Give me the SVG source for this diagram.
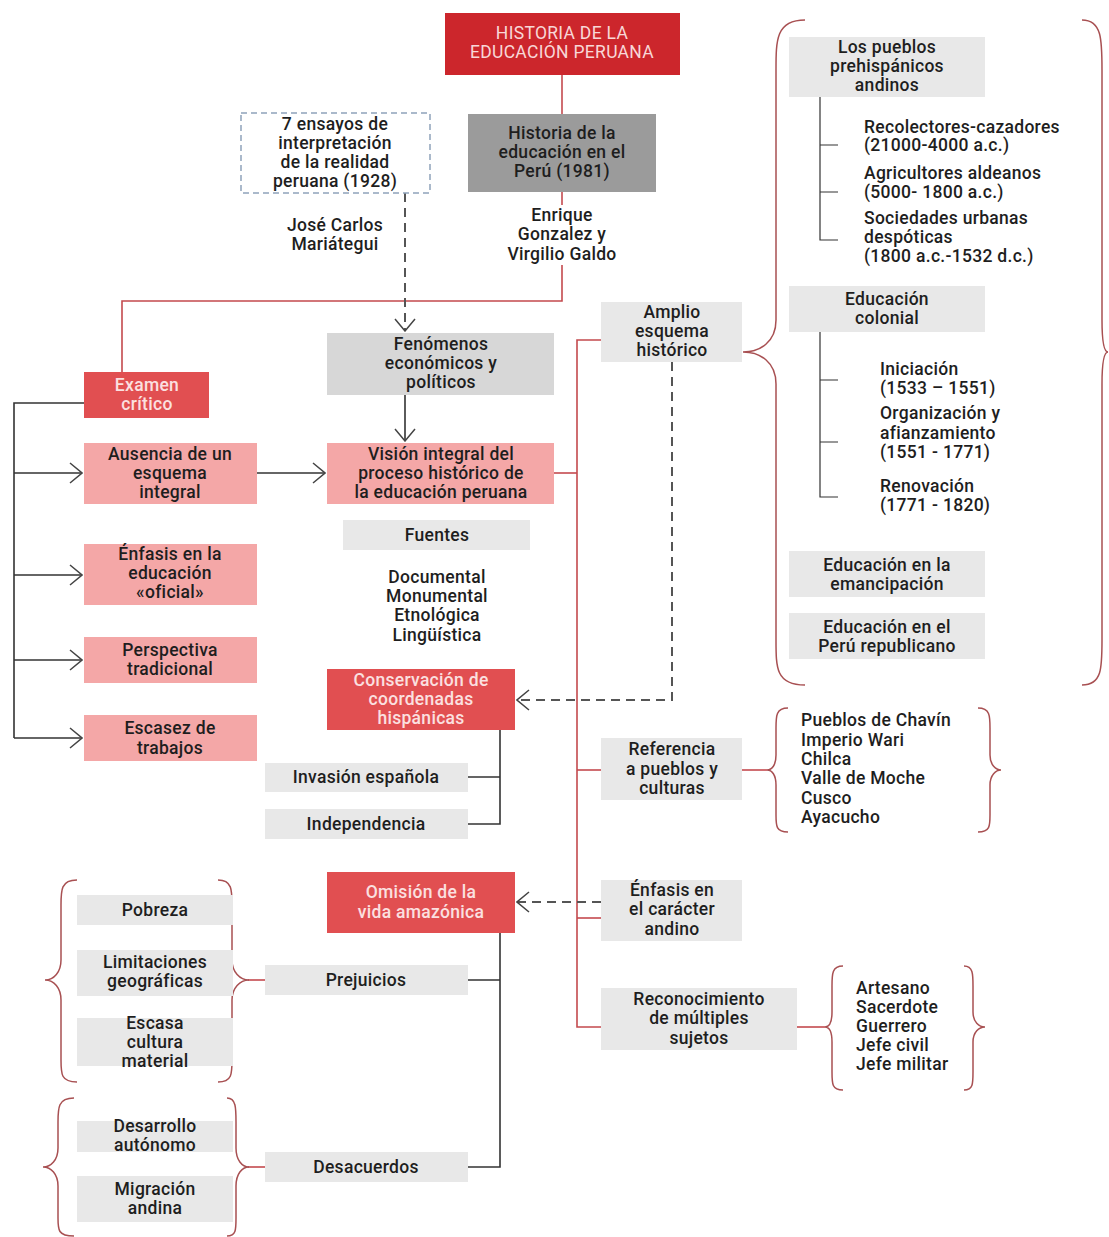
<svg xmlns="http://www.w3.org/2000/svg" width="1109" height="1237" viewBox="0 0 1109 1237">
<style>
text{font-family:Roboto,"Liberation Sans",sans-serif;font-size:17.5px;font-weight:500;letter-spacing:0.3px;fill:#1e1e1e;}
.c{text-anchor:middle}
.lt{fill:#fbe0e0}
.red{fill:#cc262c}
.mred{fill:#e14f51}
.pink{fill:#f4a7a7}
.dgray{fill:#9b9b9b}
.mgray{fill:#d7d7d7}
.lgray{fill:#e8e8e8}
.rl{stroke:#c44a4e;stroke-width:1.6;fill:none}
.dl{stroke:#333;stroke-width:1.6;fill:none}
.dash{stroke:#555;stroke-width:2;fill:none;stroke-dasharray:9 6}
.br{stroke:#a85052;stroke-width:1.5;fill:none}
.tl{stroke:#333;stroke-width:1.2;fill:none}
</style>
<defs>
<marker id="arr" markerUnits="userSpaceOnUse" markerWidth="14" markerHeight="22" viewBox="0 0 14 22" refX="13" refY="11" orient="auto">
<path d="M1,1 L13,11 L1,21" fill="none" stroke="#444" stroke-width="1.5"/>
</marker>
</defs>
<rect width="1109" height="1237" fill="#fff"/>

<g id="connectors">
<path class="rl" d="M562,75 V114"/>
<path class="rl" d="M562,192 V205"/>
<path class="rl" d="M562,265 V301 H122 V372"/>
<path class="dash" d="M405,193 V331" marker-end="url(#arr)"/>
<path class="dl" d="M405,395 V441" marker-end="url(#arr)"/>
<path class="dl" d="M84,403 H14 V738"/>
<path class="dl" d="M14,473 H82" marker-end="url(#arr)"/>
<path class="dl" d="M14,575 H82" marker-end="url(#arr)"/>
<path class="dl" d="M14,660 H82" marker-end="url(#arr)"/>
<path class="dl" d="M14,738 H82" marker-end="url(#arr)"/>
<path class="dl" d="M257,473 H325" marker-end="url(#arr)"/>
<path class="rl" d="M554,473 H577"/>
<path class="rl" d="M601,340 H577 V1027 H601"/>
<path class="rl" d="M577,770 H601"/>
<path class="rl" d="M577,918 H601"/>
<path class="dash" d="M672,362 V700 H517" marker-end="url(#arr)"/>
<path class="dash" d="M601,902 H517" marker-end="url(#arr)"/>
<path class="dl" d="M500,730 V824 H468 M468,777 H500"/>
<path class="dl" d="M500,933 V1167 H468 M468,980 H500"/>
<path class="tl" d="M820,97 V240 H838 M820,145 H838 M820,192 H838"/>
<path class="tl" d="M820,332 V497 H838 M820,380 H838 M820,442 H838"/>
<path class="rl" d="M742,770 H767"/>
<path class="rl" d="M797,1027 H825"/>
<path class="rl" d="M248,980 H265"/>
<path class="rl" d="M248,1167 H265"/>
</g>

<g id="braces">
<path class="br" d="M805,20 C776,20 776,40 776,70 L776,320 C776,342 760,352 743,352 C760,352 776,362 776,384 L776,640 C776,668 776,685 805,685"/>
<path class="br" d="M1082,20 C1102,20 1102,40 1102,70 L1102,320 C1102,342 1104,352 1108,352 C1104,352 1102,362 1102,384 L1102,640 C1102,668 1102,685 1082,685"/>
<path class="br" d="M788,708 C776,708 776,716 776,728 L776,755 C776,765 772,770 767,770 C772,770 776,775 776,785 L776,815 C776,826 776,832 788,832"/>
<path class="br" d="M978,708 C990,708 990,716 990,728 L990,755 C990,765 996,770 1001,770 C996,770 990,775 990,785 L990,815 C990,826 990,832 978,832"/>
<path class="br" d="M843,966 C832,966 832,974 832,986 L832,1012 C832,1022 829,1027 825,1027 C829,1027 832,1032 832,1042 L832,1072 C832,1084 832,1090 843,1090"/>
<path class="br" d="M964,966 C973,966 973,974 973,986 L973,1012 C973,1022 979,1027 985,1027 C979,1027 973,1032 973,1042 L973,1072 C973,1084 973,1090 964,1090"/>
<path class="br" d="M77,880 C61,880 61,890 61,905 L61,960 C61,972 54,980 45,980 C54,980 61,988 61,1000 L61,1060 C61,1074 61,1082 77,1082"/>
<path class="br" d="M218,880 C232,880 232,890 232,905 L232,960 C232,972 240,980 249,980 C240,980 232,988 232,1000 L232,1060 C232,1074 232,1082 218,1082"/>
<path class="br" d="M74,1098 C58,1098 58,1108 58,1122 L58,1148 C58,1160 51,1167 43,1167 C51,1167 58,1174 58,1186 L58,1218 C58,1230 58,1236 74,1236"/>
<path class="br" d="M227,1098 C236,1098 236,1108 236,1122 L236,1148 C236,1160 242,1167 249,1167 C242,1167 236,1174 236,1186 L236,1218 C236,1230 236,1236 227,1236"/>
</g>

<g id="title">
<rect class="red" x="445" y="13" width="235" height="62"/>
<text class="c" x="562" y="39" style="fill:#f8d7d7;font-weight:400">HISTORIA DE LA</text>
<text class="c" x="562" y="58" style="fill:#f8d7d7;font-weight:400">EDUCACIÓN PERUANA</text>
</g>
<g id="historia1981">
<rect class="dgray" x="468" y="114" width="188" height="78"/>
<text class="c" x="562" y="139">Historia de la</text>
<text class="c" x="562" y="158">educación en el</text>
<text class="c" x="562" y="177">Perú (1981)</text>
</g>
<g id="autores1981">
<text class="c" x="562" y="221">Enrique</text>
<text class="c" x="562" y="240">Gonzalez y</text>
<text class="c" x="562" y="260">Virgilio Galdo</text>
</g>
<g id="sieteEnsayos">
<rect x="241" y="113" width="189" height="80" fill="#fff" stroke="#8ea3bb" stroke-width="1.5" stroke-dasharray="6 4"/>
<text class="c" x="335" y="130">7 ensayos de</text>
<text class="c" x="335" y="149">interpretación</text>
<text class="c" x="335" y="168">de la realidad</text>
<text class="c" x="335" y="187">peruana (1928)</text>
</g>
<g id="mariategui">
<text class="c" x="335" y="231">José Carlos</text>
<text class="c" x="335" y="250">Mariátegui</text>
</g>
<g id="fenomenos">
<rect class="mgray" x="327" y="333" width="227" height="62"/>
<text class="c" x="441" y="350">Fenómenos</text>
<text class="c" x="441" y="369">económicos y</text>
<text class="c" x="441" y="388">políticos</text>
</g>
<g id="vision">
<rect class="pink" x="327" y="443" width="227" height="61"/>
<text class="c" x="441" y="460">Visión integral del</text>
<text class="c" x="441" y="479">proceso histórico de</text>
<text class="c" x="441" y="498">la educación peruana</text>
</g>
<g id="examen">
<rect class="mred" x="84" y="372" width="125" height="46"/>
<text class="c lt" x="147" y="391">Examen</text>
<text class="c lt" x="147" y="410">crítico</text>
</g>
<g id="ausencia">
<rect class="pink" x="84" y="443" width="173" height="61"/>
<text class="c" x="170" y="460">Ausencia de un</text>
<text class="c" x="170" y="479">esquema</text>
<text class="c" x="170" y="498">integral</text>
</g>
<g id="enfasisOficial">
<rect class="pink" x="84" y="544" width="173" height="61"/>
<text class="c" x="170" y="560">Énfasis en la</text>
<text class="c" x="170" y="579">educación</text>
<text class="c" x="170" y="598">«oficial»</text>
</g>
<g id="perspectiva">
<rect class="pink" x="84" y="637" width="173" height="46"/>
<text class="c" x="170" y="656">Perspectiva</text>
<text class="c" x="170" y="675">tradicional</text>
</g>
<g id="escasez">
<rect class="pink" x="84" y="715" width="173" height="46"/>
<text class="c" x="170" y="734">Escasez de</text>
<text class="c" x="170" y="754">trabajos</text>
</g>
<g id="fuentes">
<rect class="lgray" x="343" y="520" width="187" height="30"/>
<text class="c" x="437" y="541">Fuentes</text>
</g>
<g id="tiposFuentes">
<text class="c" x="437" y="583">Documental</text>
<text class="c" x="437" y="602">Monumental</text>
<text class="c" x="437" y="621">Etnológica</text>
<text class="c" x="437" y="641">Lingüística</text>
</g>
<g id="conservacion">
<rect class="mred" x="327" y="669" width="188" height="61"/>
<text class="c lt" x="421" y="686">Conservación de</text>
<text class="c lt" x="421" y="705">coordenadas</text>
<text class="c lt" x="421" y="724">hispánicas</text>
</g>
<g id="invasion">
<rect class="lgray" x="265" y="763" width="203" height="29"/>
<text class="c" x="366" y="783">Invasión española</text>
</g>
<g id="independencia">
<rect class="lgray" x="265" y="809" width="203" height="30"/>
<text class="c" x="366" y="830">Independencia</text>
</g>
<g id="omision">
<rect class="mred" x="327" y="872" width="188" height="61"/>
<text class="c lt" x="421" y="898">Omisión de la</text>
<text class="c lt" x="421" y="918">vida amazónica</text>
</g>
<g id="prejuicios">
<rect class="lgray" x="265" y="965" width="203" height="30"/>
<text class="c" x="366" y="986">Prejuicios</text>
</g>
<g id="desacuerdos">
<rect class="lgray" x="265" y="1152" width="203" height="30"/>
<text class="c" x="366" y="1173">Desacuerdos</text>
</g>
<g id="pobreza">
<rect class="lgray" x="77" y="895" width="156" height="30"/>
<text class="c" x="155" y="916">Pobreza</text>
</g>
<g id="limitaciones">
<rect class="lgray" x="77" y="950" width="156" height="46"/>
<text class="c" x="155" y="968">Limitaciones</text>
<text class="c" x="155" y="987">geográficas</text>
</g>
<g id="escasa">
<rect class="lgray" x="77" y="1018" width="156" height="48"/>
<text class="c" x="155" y="1029">Escasa</text>
<text class="c" x="155" y="1048">cultura</text>
<text class="c" x="155" y="1067">material</text>
</g>
<g id="desarrollo">
<rect class="lgray" x="77" y="1121" width="156" height="31"/>
<text class="c" x="155" y="1132">Desarrollo</text>
<text class="c" x="155" y="1151">autónomo</text>
</g>
<g id="migracion">
<rect class="lgray" x="77" y="1176" width="156" height="46"/>
<text class="c" x="155" y="1195">Migración</text>
<text class="c" x="155" y="1214">andina</text>
</g>
<g id="amplio">
<rect class="lgray" x="601" y="302" width="141" height="60"/>
<text class="c" x="672" y="318">Amplio</text>
<text class="c" x="672" y="337">esquema</text>
<text class="c" x="672" y="356">histórico</text>
</g>
<g id="referencia">
<rect class="lgray" x="601" y="738" width="141" height="62"/>
<text class="c" x="672" y="755">Referencia</text>
<text class="c" x="672" y="775">a pueblos y</text>
<text class="c" x="672" y="794">culturas</text>
</g>
<g id="enfasisAndino">
<rect class="lgray" x="601" y="880" width="141" height="61"/>
<text class="c" x="672" y="896">Énfasis en</text>
<text class="c" x="672" y="915">el carácter</text>
<text class="c" x="672" y="935">andino</text>
</g>
<g id="reconocimiento">
<rect class="lgray" x="601" y="988" width="196" height="62"/>
<text class="c" x="699" y="1005">Reconocimiento</text>
<text class="c" x="699" y="1024">de múltiples</text>
<text class="c" x="699" y="1044">sujetos</text>
</g>
<g id="pueblosLista">
<text x="801" y="726">Pueblos de Chavín</text>
<text x="801" y="746">Imperio Wari</text>
<text x="801" y="765">Chilca</text>
<text x="801" y="784">Valle de Moche</text>
<text x="801" y="804">Cusco</text>
<text x="801" y="823">Ayacucho</text>
</g>
<g id="sujetosLista">
<text x="856" y="994">Artesano</text>
<text x="856" y="1013">Sacerdote</text>
<text x="856" y="1032">Guerrero</text>
<text x="856" y="1051">Jefe civil</text>
<text x="856" y="1070">Jefe militar</text>
</g>
<g id="pueblosPrehispanicos">
<rect class="lgray" x="789" y="37" width="196" height="60"/>
<text class="c" x="887" y="53">Los pueblos</text>
<text class="c" x="887" y="72">prehispánicos</text>
<text class="c" x="887" y="91">andinos</text>
</g>
<g id="recolectores">
<text x="864" y="133">Recolectores-cazadores</text>
<text x="864" y="151">(21000-4000 a.c.)</text>
</g>
<g id="agricultores">
<text x="864" y="179">Agricultores aldeanos</text>
<text x="864" y="198">(5000- 1800 a.c.)</text>
</g>
<g id="sociedades">
<text x="864" y="224">Sociedades urbanas</text>
<text x="864" y="243">despóticas</text>
<text x="864" y="262">(1800 a.c.-1532 d.c.)</text>
</g>
<g id="colonial">
<rect class="lgray" x="789" y="286" width="196" height="46"/>
<text class="c" x="887" y="305">Educación</text>
<text class="c" x="887" y="324">colonial</text>
</g>
<g id="iniciacion">
<text x="880" y="375">Iniciación</text>
<text x="880" y="394">(1533 – 1551)</text>
</g>
<g id="organizacion">
<text x="880" y="419">Organización y</text>
<text x="880" y="439">afianzamiento</text>
<text x="880" y="458">(1551 - 1771)</text>
</g>
<g id="renovacion">
<text x="880" y="492">Renovación</text>
<text x="880" y="511">(1771 - 1820)</text>
</g>
<g id="emancipacion">
<rect class="lgray" x="789" y="551" width="196" height="46"/>
<text class="c" x="887" y="571">Educación en la</text>
<text class="c" x="887" y="590">emancipación</text>
</g>
<g id="republicano">
<rect class="lgray" x="789" y="613" width="196" height="46"/>
<text class="c" x="887" y="633">Educación en el</text>
<text class="c" x="887" y="652">Perú republicano</text>
</g>
</svg>
